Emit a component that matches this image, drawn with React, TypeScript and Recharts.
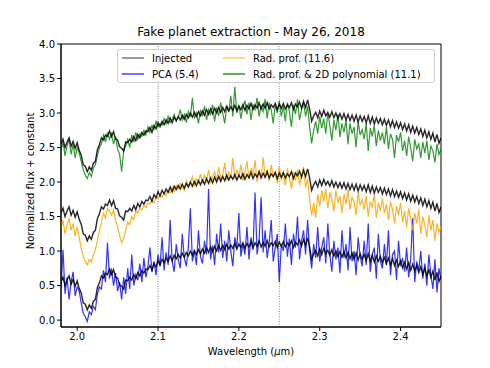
import React from 'react'
import { LineChart, Line, XAxis, YAxis, ReferenceLine, ReferenceArea } from 'recharts'

// Wavelength grid of the extracted spectra (µm), evenly sampled
const WL_START = 1.98
const WL_STEP = 0.0025

// Injected planet spectrum, normalized (plotted at +0, +1 and +2)
const INJECTED = [
  0.55, 0.62, 0.50, 0.58, 0.64, 0.52, 0.59, 0.49, 0.57, 0.46,
  0.39, 0.25, 0.23, 0.15, 0.22, 0.17, 0.27, 0.30, 0.47, 0.54,
  0.64, 0.61, 0.68, 0.66, 0.74, 0.66, 0.73, 0.62, 0.61, 0.51,
  0.49, 0.45, 0.58, 0.57, 0.62, 0.58, 0.66, 0.60, 0.69, 0.64,
  0.72, 0.68, 0.74, 0.73, 0.79, 0.72, 0.82, 0.77, 0.86, 0.80,
  0.88, 0.83, 0.90, 0.85, 0.93, 0.86, 0.94, 0.89, 0.95, 0.90,
  0.97, 0.91, 0.98, 0.93, 1.00, 0.94, 1.01, 0.95, 1.02, 0.96,
  1.03, 0.97, 1.05, 0.98, 1.06, 0.99, 1.07, 1.00, 1.08, 1.01,
  1.08, 1.02, 1.10, 1.03, 1.09, 1.04, 1.11, 1.03, 1.10, 1.05,
  1.12, 1.04, 1.11, 1.06, 1.14, 1.05, 1.12, 1.07, 1.15, 1.06,
  1.13, 1.07, 1.15, 1.06, 1.12, 1.08, 1.14, 1.05, 1.13, 1.07,
  1.14, 1.06, 1.12, 1.08, 1.15, 1.05, 1.13, 1.09, 1.16, 1.07,
  1.17, 1.08, 1.19, 1.06, 0.88, 0.96, 1.01, 0.93, 1.03, 0.95,
  1.04, 0.96, 1.01, 0.94, 1.02, 0.93, 1.00, 0.92, 0.99, 0.91,
  0.99, 0.90, 0.98, 0.89, 0.97, 0.88, 0.97, 0.87, 0.96, 0.88,
  0.95, 0.86, 0.96, 0.85, 0.94, 0.84, 0.93, 0.85, 0.92, 0.83,
  0.91, 0.82, 0.90, 0.80, 0.89, 0.79, 0.87, 0.78, 0.86, 0.76,
  0.84, 0.74, 0.83, 0.72, 0.81, 0.71, 0.79, 0.69, 0.77, 0.66,
  0.75, 0.64, 0.73, 0.62, 0.71, 0.58, 0.69, 0.56, 0.64,
]
const INJECTED_OFFSETS = [0, 1, 2]

// PCA extraction (offset 0)
const PCA = [
  0.45, 1.02, 0.38, 0.62, 0.30, 0.55, 0.70, 0.35, 0.48, 0.42,
  0.25, 0.10, 0.05, -0.02, 0.12, 0.08, 0.20, 0.15, 0.38, 0.48,
  0.45, 0.72, 0.55, 1.12, 0.60, 0.75, 0.50, 0.68, 0.42, 0.55,
  0.30, 0.62, 0.38, 0.75, 0.45, 0.95, 0.50, 0.66, 0.58, 0.82,
  0.55, 0.90, 0.62, 0.78, 1.05, 0.70, 0.85, 0.65, 0.95, 0.78,
  1.20, 0.72, 0.98, 0.80, 1.45, 0.85, 0.70, 1.10, 0.88, 0.75,
  1.25, 0.90, 0.78, 1.05, 1.62, 0.85, 1.00, 0.80, 1.30, 0.92,
  0.82, 1.15, 0.95, 1.90, 0.88, 1.08, 0.80, 1.25, 0.98, 1.40,
  0.90, 1.15, 0.85, 1.30, 1.00, 0.78, 1.20, 1.05, 1.55, 0.92,
  1.10, 0.95, 1.35, 0.88, 1.20, 1.02, 1.85, 0.95, 1.15, 1.78,
  0.98, 1.30, 0.90, 1.12, 1.45, 0.85, 1.05, 1.25, 0.55, 1.10,
  1.00, 1.40, 0.92, 1.18, 0.80, 1.25, 1.05, 1.50, 0.88, 1.15,
  1.30, 0.95, 1.45, 1.00, 0.75, 1.10, 0.90, 1.35, 0.85, 1.05,
  1.20, 0.82, 1.40, 0.95, 0.70, 1.15, 0.88, 1.05, 0.68, 1.30,
  0.90, 1.10, 0.72, 1.35, 0.85, 1.00, 0.65, 1.20, 0.92, 0.78,
  1.15, 0.80, 1.40, 0.70, 0.95, 1.05, 0.60, 1.25, 0.85, 0.75,
  1.10, 0.80, 1.30, 0.65, 0.95, 1.00, 0.58, 1.15, 0.78, 0.90,
  0.70, 1.05, 0.62, 0.88, 1.48, 0.55, 0.85, 0.72, 1.00, 0.60,
  0.82, 0.50, 0.95, 0.65, 0.45, 0.88, 0.40, 0.75, 0.58,
]

// Radial profile extraction (offset 1)
const RAD_PROF = [
  1.32, 1.45, 1.25, 1.38, 1.48, 1.30, 1.40, 1.22, 1.35, 1.20,
  1.05, 0.92, 0.85, 0.80, 0.88, 0.84, 0.95, 1.02, 1.15, 1.30,
  1.42, 1.55, 1.48, 1.62, 1.58, 1.52, 1.60, 1.45, 1.35, 1.22,
  1.12, 1.18, 1.30, 1.42, 1.38, 1.50, 1.46, 1.58, 1.55, 1.62,
  1.60, 1.66, 1.63, 1.70, 1.68, 1.74, 1.70, 1.78, 1.76, 1.80,
  1.78, 1.85, 1.80, 1.88, 1.84, 1.92, 1.86, 1.95, 1.90, 1.98,
  1.92, 1.88, 2.02, 1.94, 1.98, 2.08, 1.95, 2.05, 2.00, 2.12,
  1.98, 2.10, 2.02, 2.18, 2.00, 2.08, 2.15, 2.02, 2.22, 2.05,
  2.10, 2.28, 2.02, 2.14, 2.06, 2.35, 2.04, 2.18, 2.08, 2.25,
  2.02, 2.15, 2.30, 2.05, 2.20, 2.10, 2.32, 2.00, 2.16, 2.08,
  2.36, 2.06, 2.18, 2.02, 2.25, 2.08, 2.14, 1.98, 2.22, 2.04,
  2.12, 1.95, 2.20, 2.05, 1.90, 2.15, 2.02, 2.18, 1.96, 2.10,
  2.22, 1.92, 2.05, 1.75, 1.52, 1.70, 1.48, 1.82, 1.65, 1.88,
  1.72, 1.90, 1.62, 1.85, 1.75, 1.58, 1.88, 1.70, 1.80, 1.55,
  1.82, 1.68, 1.90, 1.60, 1.78, 1.72, 1.52, 1.85, 1.66, 1.75,
  1.60, 1.80, 1.50, 1.72, 1.64, 1.82, 1.48, 1.70, 1.58, 1.76,
  1.55, 1.68, 1.45, 1.72, 1.60, 1.40, 1.65, 1.52, 1.70, 1.42,
  1.58, 1.35, 1.62, 1.48, 1.30, 1.55, 1.40, 1.60, 1.25, 1.50,
  1.38, 1.20, 1.52, 1.30, 1.45, 1.15, 1.40, 1.28, 1.35,
]

// Radial profile + 2D polynomial extraction (offset 2)
const RAD_POLY = [
  2.45, 2.58, 2.38, 2.52, 2.62, 2.40, 2.55, 2.35, 2.50, 2.42,
  2.30, 2.18, 2.10, 2.05, 2.14, 2.08, 2.20, 2.25, 2.38, 2.50,
  2.55, 2.68, 2.58, 2.72, 2.62, 2.70, 2.55, 2.66, 2.48, 2.40,
  2.15, 2.45, 2.52, 2.62, 2.50, 2.68, 2.58, 2.72, 2.62, 2.70,
  2.66, 2.75, 2.68, 2.80, 2.72, 2.82, 2.76, 2.88, 2.80, 2.85,
  2.82, 2.92, 2.84, 2.95, 2.86, 2.90, 2.98, 2.88, 2.94, 3.05,
  2.90, 2.98, 2.86, 3.02, 2.94, 3.22, 2.92, 3.00, 2.85, 3.05,
  2.95, 3.10, 2.90, 3.05, 2.98, 3.12, 2.88, 3.08, 2.96, 3.15,
  3.00, 2.85, 3.10, 3.02, 3.25, 2.95, 3.38, 3.00, 3.12, 2.92,
  3.08, 3.18, 2.98, 3.15, 2.90, 3.12, 3.05, 3.22, 2.95, 3.10,
  3.02, 3.20, 2.92, 3.15, 3.05, 2.85, 3.12, 3.00, 3.18, 2.95,
  3.10, 2.88, 3.15, 3.02, 2.80, 3.12, 2.98, 3.20, 2.90, 3.05,
  3.15, 2.95, 3.10, 2.80, 2.56, 2.75, 2.88, 2.70, 2.95, 2.78,
  2.92, 2.70, 3.00, 2.82, 2.60, 2.90, 2.75, 2.98, 2.65, 2.85,
  2.72, 2.90, 2.55, 2.85, 2.70, 2.80, 2.50, 2.88, 2.68, 2.76,
  2.62, 2.85, 2.45, 2.78, 2.66, 2.82, 2.52, 2.75, 2.60, 2.72,
  2.55, 2.80, 2.48, 2.70, 2.62, 2.35, 2.68, 2.58, 2.72, 2.45,
  2.60, 2.38, 2.66, 2.50, 2.30, 2.62, 2.48, 2.55, 2.35, 2.58,
  2.42, 2.60, 2.32, 2.52, 2.45, 2.28, 2.55, 2.40, 2.48,
]

const X_TICKS = [2.0, 2.1, 2.2, 2.3, 2.4]
const Y_TICKS = [0, 0.5, 1, 1.5, 2, 2.5, 3, 3.5, 4]
const MARKERS = [2.1, 2.25]

const FONT = '"DejaVu Sans", sans-serif'

const data = INJECTED.map((v, i) => ({
  wl: WL_START + i * WL_STEP,
  inj0: v + INJECTED_OFFSETS[0],
  inj1: v + INJECTED_OFFSETS[1],
  inj2: v + INJECTED_OFFSETS[2],
  pca: PCA[i],
  rad: RAD_PROF[i],
  poly: RAD_POLY[i],
}))

const LEGEND = [
  { label: 'Injected', color: '#9a9a9a', x: 4, y: 8 },
  { label: 'PCA (5.4)', color: '#7373ff', x: 4, y: 24 },
  { label: 'Rad. prof. (11.6)', color: '#ffd98c', x: 105, y: 8 },
  { label: 'Rad. prof. & 2D polynomial (11.1)', color: '#66ac66', x: 105, y: 24 },
]

const tickStyle = { fontSize: 10, fill: '#000', fontFamily: FONT }

export default function App() {
  return (
    <div style={{ position: 'absolute', left: 0, top: 0, width: 490, height: 368, background: '#fff', fontFamily: FONT }}>
      <LineChart width={490} height={368} data={data} margin={{ top: 44, right: 49, left: 0, bottom: 0 }}>
        <XAxis dataKey="wl" type="number" domain={[1.98, 2.45]} ticks={X_TICKS} allowDataOverflow
          tickFormatter={(v) => Number(v).toFixed(1)} height={41} tickSize={4}
          stroke="#000" tick={tickStyle} tickLine={{ stroke: '#000' }} />
        <YAxis type="number" domain={[-0.1, 4]} ticks={Y_TICKS} allowDataOverflow
          tickFormatter={(v) => Number(v).toFixed(1)} width={61} tickSize={4}
          stroke="#000" tick={tickStyle} tickLine={{ stroke: '#000' }} />
        {MARKERS.map((m) => (
          <ReferenceLine key={m} x={m} stroke="#666" strokeWidth={0.8} strokeDasharray="1 1.5" />
        ))}
        <Line dataKey="pca" stroke="#0000ff" strokeOpacity={0.8} strokeWidth={1.2} dot={false} isAnimationActive={false} />
        <Line dataKey="inj0" stroke="#000" strokeOpacity={0.85} strokeWidth={1.4} dot={false} isAnimationActive={false} />
        <Line dataKey="rad" stroke="#ffa500" strokeOpacity={0.85} strokeWidth={1.2} dot={false} isAnimationActive={false} />
        <Line dataKey="inj1" stroke="#000" strokeOpacity={0.85} strokeWidth={1.4} dot={false} isAnimationActive={false} />
        <Line dataKey="poly" stroke="#008000" strokeOpacity={0.8} strokeWidth={1.2} dot={false} isAnimationActive={false} />
        <Line dataKey="inj2" stroke="#000" strokeOpacity={0.85} strokeWidth={1.4} dot={false} isAnimationActive={false} />
        <ReferenceArea x1={1.98} x2={2.45} y1={-0.1} y2={4} fill="none" fillOpacity={0} stroke="#000" strokeWidth={1} />
      </LineChart>

      <div style={{ position: 'absolute', left: 61, width: 380, top: 25, textAlign: 'center', fontSize: 12 }}>
        Fake planet extraction - May 26, 2018
      </div>
      <div style={{ position: 'absolute', left: 61, width: 380, top: 346, textAlign: 'center', fontSize: 10 }}>
        Wavelength (<i>μ</i>m)
      </div>
      <div style={{ position: 'absolute', left: 30, top: 181, width: 0, height: 0 }}>
        <div style={{ position: 'absolute', transform: 'translate(-50%, -50%) rotate(-90deg)', whiteSpace: 'nowrap', fontSize: 10 }}>
          Normalized flux + constant
        </div>
      </div>

      <div style={{
        position: 'absolute', left: 117, top: 49, width: 316, height: 32,
        border: '1px solid #d0d0d0', borderRadius: 3, background: 'rgba(255,255,255,0.8)', fontSize: 10,
      }}>
        {LEGEND.map((e) => (
          <div key={e.label} style={{ position: 'absolute', left: e.x, top: e.y - 6, height: 12, display: 'flex', alignItems: 'center', whiteSpace: 'nowrap' }}>
            <div style={{ width: 22, height: 1.5, background: e.color, marginRight: 8 }} />
            <span>{e.label}</span>
          </div>
        ))}
      </div>
    </div>
  )
}
